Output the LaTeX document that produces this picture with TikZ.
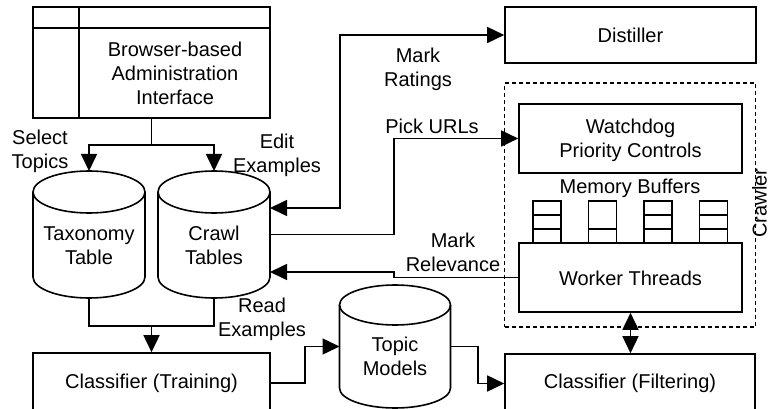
\documentclass[tikz,border=0pt]{standalone}
\usepackage{fontspec}
\setmainfont{Liberation Sans}
\usetikzlibrary{arrows.meta}
\newcommand{\cylshape}[5]{%
  \draw[ln] (#1-#4,#2) -- (#1-#4,#3) arc[start angle=180,end angle=360,x radius=#4pt,y radius=#5pt] -- (#1+#4,#2);
  \draw[ln] (#1,#2) ellipse[x radius=#4pt,y radius=#5pt];}
\begin{document}
\begin{tikzpicture}[x=1pt,y=-1pt,
  ln/.style={line width=1.6pt},
  box/.style={draw, line width=1.6pt, inner sep=0pt},
  arr/.style={ln, -{Triangle[length=17pt,width=16pt]}},
  darr/.style={ln, {Triangle[length=17pt,width=16pt]}-{Triangle[length=17pt,width=16pt]}},
  lbl/.style={font=\fontsize{20}{24}\selectfont, align=center, inner sep=0pt},
  anchorbox/.style={inner sep=0pt, outer sep=0pt},
  buf/.style={line width=1.6pt}
]
\useasboundingbox (0,0) rectangle (769,409);

% Browser-based administration interface
\node[box, minimum width=237pt, minimum height=111pt] (browser) at (151.5,62.5) {};
\draw[ln] (browser.north west) ++(0,22) -- ++(237,0);
\draw[ln] (browser.north west) ++(47,0) -- ++(0,111);
\node[lbl] (browsertxt) at (175,73) {Browser-based\\Administration\\Interface};

% cylinders
\cylshape{89}{192}{277}{56}{21}
\cylshape{214}{192}{277}{56}{21}
\cylshape{395}{305}{388}{55.5}{20}
\node[anchorbox, minimum width=112pt, minimum height=127pt] (tax) at (89,234.5) {};
\node[anchorbox, minimum width=112pt, minimum height=127pt] (crawl) at (214,234.5) {};
\node[anchorbox, minimum width=111pt, minimum height=123pt] (topic) at (395,346.5) {};
\node[lbl] (taxtxt) at (89,245.5) {Taxonomy\\Table};
\node[lbl] (crawltxt) at (214,245.5) {Crawl\\Tables};
\node[lbl] (topictxt) at (395,356.5) {Topic\\Models};

% boxes
\node[box, minimum width=237pt, minimum height=60pt] (train) at (151.5,383) {};
\node[lbl] (traintxt) at (151.5,383) {Classifier (Training)};
\node[box, minimum width=250pt, minimum height=59pt] (filter) at (630,383.5) {};
\node[lbl] (filtertxt) at (630,383) {Classifier (Filtering)};
\node[box, minimum width=251pt, minimum height=56pt] (dist) at (630.5,35) {};
\node[lbl] (disttxt) at (630.5,35) {Distiller};

% crawler
\node[draw, line width=1.2pt, dash pattern=on 4pt off 3pt, minimum width=251pt, minimum height=244pt, inner sep=0pt] (crawler) at (630,205) {};
\node[lbl, rotate=90] (crawlerlbl) at (759.5,203) {Crawler};
\node[box, minimum width=223pt, minimum height=69pt] (watch) at (630.5,138.5) {};
\node[lbl] (watchtxt) at (630.5,140.5) {Watchdog\\Priority Controls};
\node[box, minimum width=223pt, minimum height=69pt] (worker) at (630.5,277.5) {};
\node[lbl] (workertxt) at (630.5,278) {Worker Threads};
\node[lbl] (memtxt) at (630,188) {Memory Buffers};

% memory buffers
\draw[buf] (533,243) rectangle (561,201); \draw[buf] (533,215) -- (561,215); \draw[buf] (533,229) -- (561,229);
\draw[buf] (588.5,243) rectangle (616.5,201); \draw[buf] (588.5,229) -- (616.5,229);
\draw[buf] (644,243) rectangle (672,201); \draw[buf] (644,215) -- (672,215); \draw[buf] (644,229) -- (672,229);
\draw[buf] (699.5,243) rectangle (727.5,201); \draw[buf] (699.5,215) -- (727.5,215); \draw[buf] (699.5,229) -- (727.5,229);

% connectors
\coordinate (split) at (151.5,145);
\draw[ln] (browser.south) -- (split);
\draw[arr] (split) -| (tax.north);
\draw[arr] (split) -| (crawl.north);

\coordinate (merge) at (151.5,326);
\draw[ln] (tax.south) |- (merge);
\draw[ln] (crawl.south) |- (merge);
\draw[arr] (merge) -- (train.north);

\draw[arr] (train.east) -- ++(34,0) |- (topic.west);
\draw[arr] (topic.east) -- ++(27.5,0) |- (filter.west);

\draw[darr] ([yshift=26.5pt]crawl.east) -- ++(70,0) |- (dist.west);
\draw[arr] (crawl.east) -- ++(124,0) |- (watch.west);
\draw[arr] (worker.west) -- ++(-124.5,0) |- ([yshift=-37.5pt]crawl.east);
\draw[darr] (worker.south) -- (worker.south |- filter.north);

% labels
\node[lbl] (selecttxt) at (40,151.5) {Select\\Topics};
\node[lbl] (edittxt) at (277,155.5) {Edit\\Examples};
\node[lbl] (ratingstxt) at (418,69.5) {Mark\\Ratings};
\node[lbl] (picktxt) at (432,126) {Pick URLs};
\node[lbl] (relevtxt) at (453,252.5) {Mark\\Relevance};
\node[lbl] (readtxt) at (262,319.5) {Read\\Examples};
\end{tikzpicture}
\end{document}
